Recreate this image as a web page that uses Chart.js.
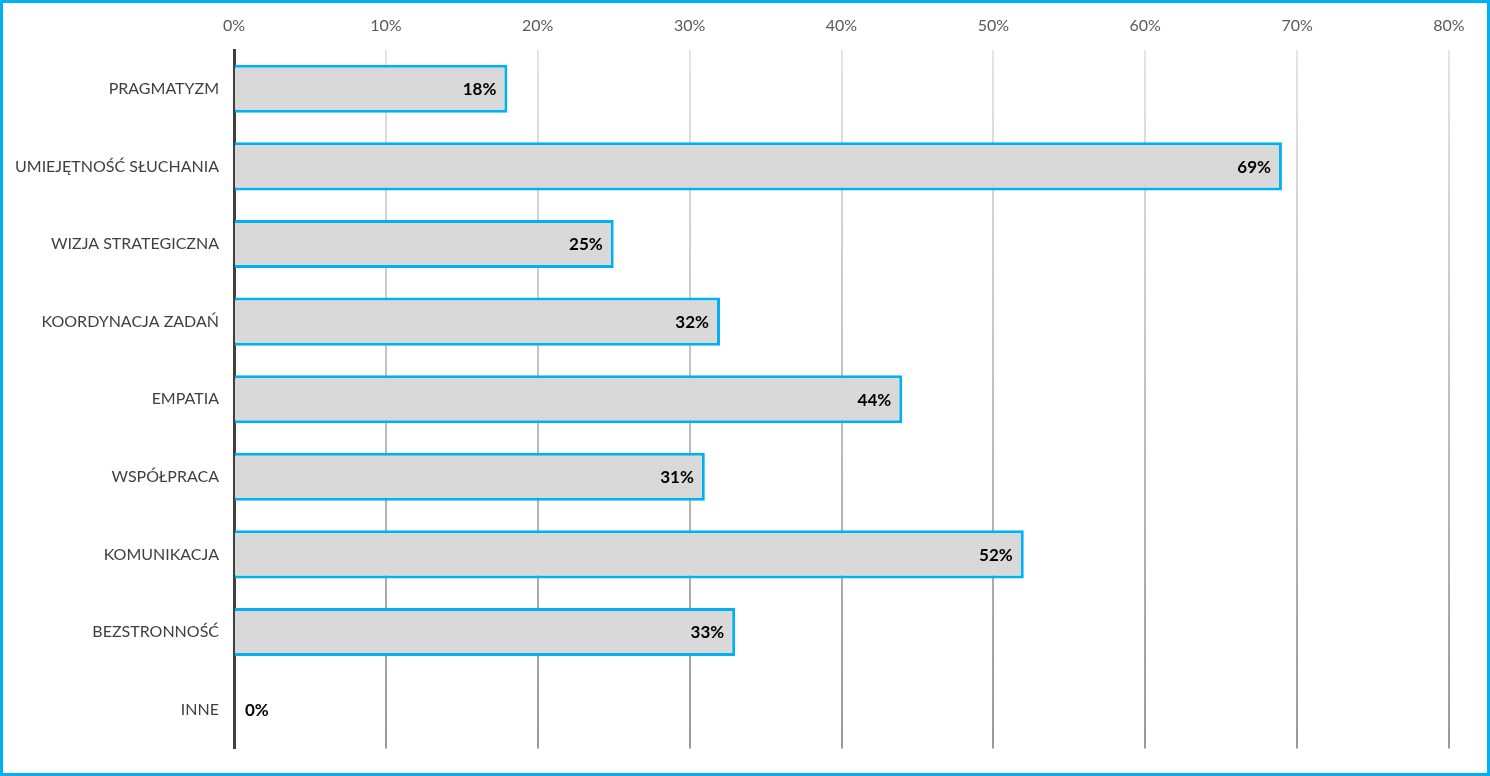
<!DOCTYPE html>
<html>
<head>
<meta charset="utf-8">
<script src="https://cdn.jsdelivr.net/npm/chart.js@4"></script>
<style>
  html, body { margin: 0; padding: 0; background: #fff; }
  #wrap { width: 1490px; height: 776px; border: 3px solid #00b0f0; box-sizing: border-box; background: #fff; }
</style>
</head>
<body>
<div id="wrap"><canvas id="myChart" width="1484" height="770"></canvas></div>
<script>
// Dane wykresu
const categories = ['PRAGMATYZM', 'UMIEJĘTNOŚĆ SŁUCHANIA', 'WIZJA STRATEGICZNA', 'KOORDYNACJA ZADAŃ',
    'EMPATIA', 'WSPÓŁPRACA', 'KOMUNIKACJA', 'BEZSTRONNOŚĆ', 'INNE'];
const values = [18, 69, 25, 32, 44, 31, 52, 33, 0];
const axisMax = 80;
const axisStep = 10;

const FONT = 'Lato, "Open Sans", sans-serif';

// lekka faktura wypełnienia słupków
const makePattern = () => {
    const c = document.createElement('canvas');
    c.width = 4; c.height = 4;
    const g = c.getContext('2d');
    g.fillStyle = '#d9d9d9';
    g.fillRect(0, 0, 4, 4);
    g.fillStyle = '#d1d1d1';
    g.fillRect(0, 0, 1, 1);
    g.fillRect(2, 2, 1, 1);
    g.fillStyle = '#dedede';
    g.fillRect(1, 3, 1, 1);
    g.fillRect(3, 1, 1, 1);
    return g.createPattern(c, 'repeat');
};

// etykiety wartości przy końcu słupka
const valueLabels = {
    id: 'valueLabels',
    afterDatasetsDraw(chart) {
        const ctx = chart.ctx;
        const meta = chart.getDatasetMeta(0);
        ctx.save();
        ctx.font = 'bold 17px ' + FONT;
        ctx.fillStyle = '#000';
        ctx.textBaseline = 'middle';
        meta.data.forEach((bar, i) => {
            const txt = values[i] + '%';
            const w = ctx.measureText(txt).width;
            if (bar.x - bar.base > w + 20) {
                ctx.textAlign = 'right';
                ctx.fillText(txt, bar.x - 11, bar.y + 1);
            } else {
                ctx.textAlign = 'left';
                ctx.fillText(txt, bar.base + 11, bar.y + 1);
            }
        });
        ctx.restore();
    }
};

let gridGrad;
const gridColor = (context) => {
    const area = context.chart.chartArea;
    if (!area) return '#d0d0d0';
    if (!gridGrad) {
        gridGrad = context.chart.ctx.createLinearGradient(0, area.top, 0, area.bottom);
        gridGrad.addColorStop(0, '#e4e4e4');
        gridGrad.addColorStop(1, '#9a9a9a');
    }
    return gridGrad;
};

const ctx = document.getElementById('myChart').getContext('2d');
const myChart = new Chart(ctx, {
    type: 'bar',
    data: {
        labels: categories,
        datasets: [{
            data: values,
            backgroundColor: makePattern(),
            borderColor: '#00b0f0',
            borderWidth: 3,
            borderSkipped: 'start',
            barPercentage: 0.62,
            categoryPercentage: 1
        }]
    },
    options: {
        indexAxis: 'y',
        responsive: false,
        animation: false,
        layout: { padding: { left: 0, right: 38, top: 0, bottom: 18 } },
        plugins: {
            legend: { display: false },
            tooltip: { enabled: false }
        },
        scales: {
            x: {
                position: 'top',
                min: 0,
                max: axisMax,
                afterFit: (s) => { s.height = 47; },
                ticks: {
                    stepSize: axisStep,
                    callback: (v) => v + '%',
                    color: '#595959',
                    font: { family: FONT, size: 16 },
                    padding: 15
                },
                grid: { color: gridColor, lineWidth: 2, drawTicks: false },
                border: { display: false }
            },
            y: {
                z: 1,
                afterFit: (s) => { s.width = 231; },
                ticks: {
                    color: '#404040',
                    font: { family: FONT, size: 16 },
                    padding: 15
                },
                grid: { display: false, drawTicks: false },
                border: { display: true, color: '#404040', width: 3 }
            }
        }
    },
    plugins: [valueLabels]
});
</script>
</body>
</html>
